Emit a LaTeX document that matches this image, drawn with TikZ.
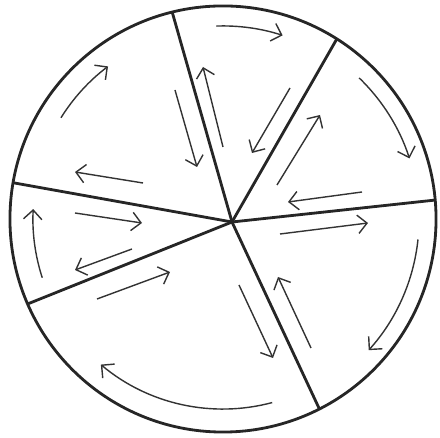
\documentclass[tikz,border=0pt]{standalone}
\usetikzlibrary{arrows.meta,calc}
\begin{document}
\begin{tikzpicture}[
  x=0.025cm, y=0.025cm,
  rim/.style={line width=2pt, draw=black!85},
  flow/.style={line width=1pt, draw=black!80,
               -{Straight Barb[length=2.3mm,width=4.6mm]}}
]
\useasboundingbox (0,0) rectangle (440,438);
% wheel
\coordinate (c) at (223,219);
\coordinate (hub) at (232,216);
\coordinate (top) at ($(c)+(103.8:5.325cm)$);
\coordinate (ur)  at ($(c)+(57.7:5.325cm)$);
\coordinate (rt)  at ($(c)+(5.1:5.325cm)$);
\coordinate (br)  at ($(c)+(-63.1:5.325cm)$);
\coordinate (ll)  at ($(c)+(203.5:5.325cm)$);
\coordinate (lt)  at ($(c)+(170.2:5.325cm)$);
\draw[rim] (c) circle[radius=5.325cm];
\draw[rim] (hub) -- (top);
\draw[rim] (hub) -- (ur);
\draw[rim] (hub) -- (rt);
\draw[rim] (hub) -- (br);
\draw[rim] (hub) -- (ll);
\draw[rim] (hub) -- (lt);
% rim arrows (clockwise in every sector)
\draw[flow] ([shift={(92:4.825cm)}]c) arc[start angle=92, end angle=72, radius=4.825cm];
\draw[flow] ([shift={(46:4.9cm)}]c) arc[start angle=46, end angle=18, radius=4.9cm];
\draw[flow] ([shift={(-6:4.9cm)}]c) arc[start angle=-6, end angle=-42, radius=4.9cm];
\draw[flow] ([shift={(-75:4.75cm)}]c) arc[start angle=-75, end angle=-130, radius=4.75cm];
\draw[flow] ([shift={(198:4.75cm)}]c) arc[start angle=198, end angle=177, radius=4.75cm];
\draw[flow] ([shift={(148:4.775cm)}]c) arc[start angle=148, end angle=127, radius=4.775cm];
% arrows along the spokes
\draw[flow] (175,348) -- (197,271);
\draw[flow] (223,291) -- (203,371);
\draw[flow] (290,350) -- (252,285);
\draw[flow] (277,253) -- (320,323);
\draw[flow] (362,246) -- (288,236);
\draw[flow] (280,204) -- (368,215);
\draw[flow] (311,90) -- (278,161);
\draw[flow] (239,153) -- (273,80);
\draw[flow] (97,139) -- (170,166);
\draw[flow] (132,189) -- (75,168);
\draw[flow] (75,225) -- (142,215);
\draw[flow] (143,255) -- (75,266);
\end{tikzpicture}
\end{document}
